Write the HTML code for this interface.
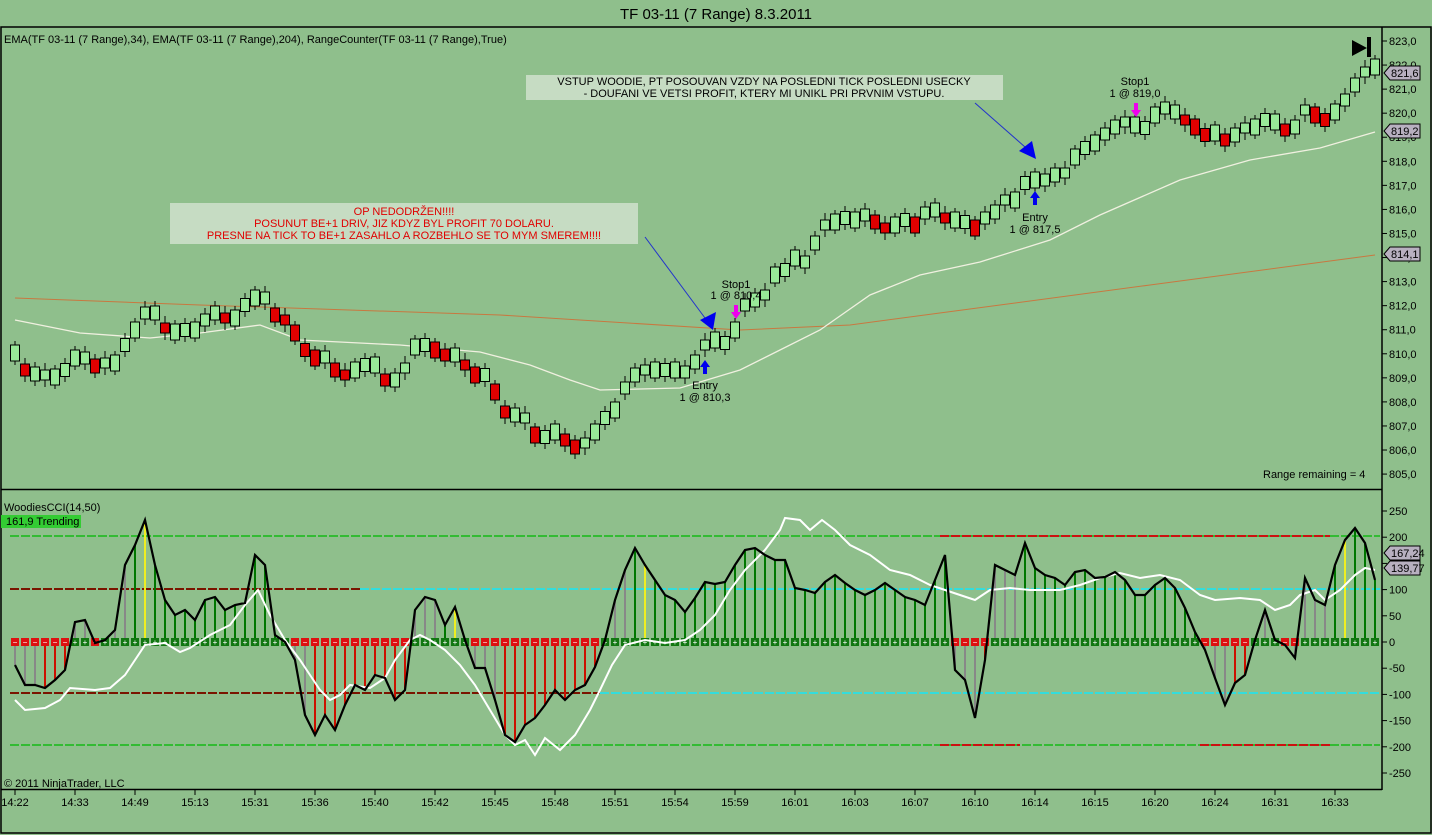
<!DOCTYPE html>
<html><head><meta charset="utf-8"><style>
html,body{margin:0;padding:0;background:#8fbf8c;}
svg{display:block;font-family:"Liberation Sans",sans-serif;}
</style></head><body>
<svg id="s" width="1432" height="835" xmlns="http://www.w3.org/2000/svg">
<rect width="1432" height="835" fill="#8fbf8c"/>
<text x="716" y="19" font-size="15" text-anchor="middle" fill="#000">TF 03-11 (7 Range)  8.3.2011</text>
<rect x="1" y="27" width="1430" height="806" fill="none" stroke="#000" stroke-width="1.5"/>
<line x1="1382" y1="27" x2="1382" y2="790" stroke="#000" stroke-width="1.5"/>
<line x1="1" y1="489.5" x2="1382" y2="489.5" stroke="#000" stroke-width="1.5"/>
<line x1="1" y1="789.5" x2="1382" y2="789.5" stroke="#000" stroke-width="1.5"/>
<text x="4" y="43" font-size="11">EMA(TF 03-11 (7 Range),34), EMA(TF 03-11 (7 Range),204), RangeCounter(TF 03-11 (7 Range),True)</text>
<text x="4" y="511" font-size="11">WoodiesCCI(14,50)</text>
<rect x="1" y="515" width="80" height="13" fill="#33cc33"/>
<text x="6" y="525" font-size="11">161,9 Trending</text>
<text x="1263" y="478" font-size="11">Range remaining = 4</text>
<text x="4" y="787" font-size="11">© 2011 NinjaTrader, LLC</text>
<g id="g"></g>
<rect x="170" y="203" width="468" height="41" fill="#c6dcc3"/>
<text font-size="11" fill="#e00000" text-anchor="middle"><tspan x="404" y="215">OP NEDODRŽEN!!!!</tspan><tspan x="404" y="227">POSUNUT BE+1 DRIV, JIZ KDYZ BYL PROFIT 70 DOLARU.</tspan><tspan x="404" y="239">PRESNE NA TICK TO BE+1 ZASAHLO A ROZBEHLO SE TO MYM SMEREM!!!!</tspan></text>
<rect x="526" y="75" width="477" height="25" fill="#c6dcc3"/>
<text font-size="11" fill="#000" text-anchor="middle"><tspan x="764" y="85">VSTUP WOODIE, PT POSOUVAN VZDY NA POSLEDNI TICK POSLEDNI USECKY</tspan><tspan x="764" y="97">- DOUFANI VE VETSI PROFIT, KTERY MI UNIKL PRI PRVNIM VSTUPU.</tspan></text>
<line x1="645" y1="237" x2="705" y2="318" stroke="#2233cc" stroke-width="1"/>
<polygon points="700,320 716,312 713,330" fill="#0000ee"/>
<line x1="975" y1="103" x2="1025" y2="147" stroke="#2233cc" stroke-width="1"/>
<polygon points="1019,151 1032,141 1036,159" fill="#0000ee"/>
<polygon points="1352,40 1367,48 1352,56" fill="#000"/><rect x="1367" y="37" width="4" height="20" fill="#000"/>
</svg>
<script>
const g=document.getElementById('g');let h='';
const mid=[353,370,374,375,377,370,358,358,366,363,363,345,330,313,313,328,332,330,330,320,313,318,318,305,298,298,315,320,333,350,358,357,370,375,370,365,365,380,380,368,347,345,350,355,355,365,375,375,392,412,415,418,435,437,432,440,447,443,432,418,410,388,375,370,370,370,370,372,362,345,340,343,330,305,300,295,275,270,258,262,243,225,222,218,220,215,222,228,225,220,225,213,210,218,220,222,228,218,212,200,200,183,180,180,175,173,157,148,143,134,127,122,125,128,115,108,112,120,127,135,133,140,135,128,127,120,122,130,127,110,115,120,112,100,85,72,67];
const X=i=>15+i*10;
function pl(pts,c,w){return `<polyline points="${pts}" fill="none" stroke="${c}" stroke-width="${w}"/>`;}
h+=pl("15,298 200,305 500,315 740,330 850,325 1000,305 1150,285 1375,255","#c87840",1);
h+=pl("15,320 80,333 150,338 200,333 260,325 300,340 400,345 480,352 530,365 570,380 600,390 680,388 740,370 780,350 820,330 870,295 920,275 980,262 1050,240 1100,215 1180,180 1250,160 1320,148 1375,132","#f0f0e0",1.3);
for(let i=0;i<mid.length;i++){const x=X(i),m=mid[i];const dn=i>0&&m>mid[i-1]+4;
const bh=[16,12,14,10,16,13][i%6];
h+=`<line x1="${x}" y1="${m-12}" x2="${x}" y2="${m+12}" stroke="#000"/>`;
h+=`<rect x="${x-4.5}" y="${m-bh/2}" width="9" height="${bh}" fill="${dn?'#e00000':'#98e898'}" stroke="#000"/>`;}
for(let p=805;p<=823;p++){const y=41+(823-p)*24.06;h+=`<line x1="1382" y1="${y}" x2="1387" y2="${y}" stroke="#000"/><text x="1389" y="${y+4}" font-size="11">${p},0</text>`;}
function tag(y,t){return `<polygon points="1384,${y} 1390,${y-7} 1420,${y-7} 1420,${y+7} 1390,${y+7}" fill="#b8b0c0" stroke="#000"/><text x="1391" y="${y+4}" font-size="11">${t}</text>`;}
h+=tag(73,'821,6')+tag(131,'819,2')+tag(254,'814,1');
h+=`<text x="736" y="288" font-size="11" text-anchor="middle">Stop1</text><text x="736" y="299" font-size="11" text-anchor="middle">1 @ 810,4</text>`;
h+=`<text x="705" y="389" font-size="11" text-anchor="middle">Entry</text><text x="705" y="401" font-size="11" text-anchor="middle">1 @ 810,3</text>`;
h+=`<text x="1135" y="85" font-size="11" text-anchor="middle">Stop1</text><text x="1135" y="97" font-size="11" text-anchor="middle">1 @ 819,0</text>`;
h+=`<text x="1035" y="221" font-size="11" text-anchor="middle">Entry</text><text x="1035" y="233" font-size="11" text-anchor="middle">1 @ 817,5</text>`;
function arr(x,y,c,up){return up?`<polygon points="${x},${y} ${x+5},${y+7} ${x+2},${y+7} ${x+2},${y+14} ${x-2},${y+14} ${x-2},${y+7} ${x-5},${y+7}" fill="${c}"/>`:`<polygon points="${x},${y+14} ${x+5},${y+7} ${x+2},${y+7} ${x+2},${y} ${x-2},${y} ${x-2},${y+7} ${x-5},${y+7}" fill="${c}"/>`;}
h+=arr(705,360,'#0000ee',1)+arr(736,305,'#ee00ee',0)+arr(1035,191,'#0000ee',1)+arr(1136,103,'#ee00ee',0);
const Y=v=>642-v*0.524;
for(const v of [250,200,150,100,50,0,-50,-100,-150,-200,-250]){const y=Y(v);h+=`<line x1="1382" y1="${y}" x2="1387" y2="${y}" stroke="#000"/><text x="1389" y="${y+4}" font-size="11">${v}</text>`;}
function dl(y,x1,x2,c){return `<line x1="${x1}" y1="${y}" x2="${x2}" y2="${y}" stroke="${c}" stroke-width="2" stroke-dasharray="9,2"/>`;}
h+=dl(536,10,1380,'#33bb33')+dl(536,940,1330,'#cc1111');
h+=dl(589,10,360,'#7a1500')+dl(589,360,1380,'#33dddd');
h+=dl(693,10,600,'#7a1500')+dl(693,600,1380,'#33dddd');
h+=dl(745,10,1380,'#33bb33')+dl(745,940,1020,'#cc1111')+dl(745,1200,1330,'#cc1111');
const c=[665,685,685,688,680,670,622,620,643,640,630,565,545,520,565,600,615,610,620,600,597,610,605,603,555,565,635,642,660,715,735,715,730,705,685,690,675,678,700,690,610,597,600,625,607,640,668,668,700,735,742,725,718,705,690,700,690,685,667,640,600,570,548,565,580,595,600,612,598,582,584,582,565,550,548,555,560,560,588,590,593,582,575,583,590,595,590,583,590,597,600,605,580,555,670,680,718,660,565,570,575,543,568,575,578,585,572,570,578,577,572,580,595,595,585,578,588,608,632,650,678,705,683,675,640,610,640,645,658,578,600,605,565,540,528,543,580];
let run=0,pts='';
for(let i=0;i<c.length;i++){const x=X(i),y=c[i];const pos=y<642;
 if(i>0&&(c[i-1]<642)===pos)run++;else run=0;
 let col=run<3?'#888888':(pos?'#007700':'#cc1100');
 if(i===13||i===63||i===44||i===124||i===133)col='#eeee22';
 h+=`<line x1="${x}" y1="642" x2="${x}" y2="${y}" stroke="${col}" stroke-width="2"/>`;
 pts+=x+','+y+' ';}
for(let i=0;i<c.length;i++){const x=X(i),neg=c[i]>642;
 h+=`<rect x="${x-4}" y="638" width="8" height="8" fill="${neg?'#dd1111':'#117711'}"/><text x="${x}" y="645" font-size="8" fill="#fff" text-anchor="middle">${neg?'−':'+'}</text>`;}
h+=pl("15,700 25,710 45,708 60,700 70,688 95,690 110,688 125,675 135,660 145,645 165,643 180,652 190,648 210,635 230,625 245,605 258,590 270,615 285,640 300,660 310,675 320,690 330,700 340,695 350,685 370,688 385,678 395,660 410,640 420,635 430,640 445,650 460,665 475,685 490,710 505,735 515,745 525,740 535,755 545,738 560,750 575,735 590,710 600,690 612,665 625,645 645,640 665,643 685,640 700,630 715,615 730,590 745,570 765,550 780,530 785,518 800,520 810,530 822,520 835,530 850,545 870,555 890,570 910,575 930,585 945,590 960,595 975,600 990,590 1010,588 1030,590 1060,590 1080,585 1100,578 1120,573 1140,578 1160,575 1180,580 1200,595 1215,600 1240,598 1260,600 1275,610 1290,605 1300,595 1315,590 1325,600 1340,590 1355,575 1365,568 1375,570","#ffffff",2);
h+=pl(pts,"#000",2.2);
h+=tag(553,'167,24')+tag(568,'139,77');
const tl=['14:22','14:33','14:49','15:13','15:31','15:36','15:40','15:42','15:45','15:48','15:51','15:54','15:59','16:01','16:03','16:07','16:10','16:14','16:15','16:20','16:24','16:31','16:33'];
tl.forEach((t,k)=>{const x=15+k*60;h+=`<line x1="${x}" y1="790" x2="${x}" y2="795" stroke="#000"/><text x="${x}" y="806" font-size="11" text-anchor="middle">${t}</text>`;});
g.innerHTML=h;
</script>
</body></html>
